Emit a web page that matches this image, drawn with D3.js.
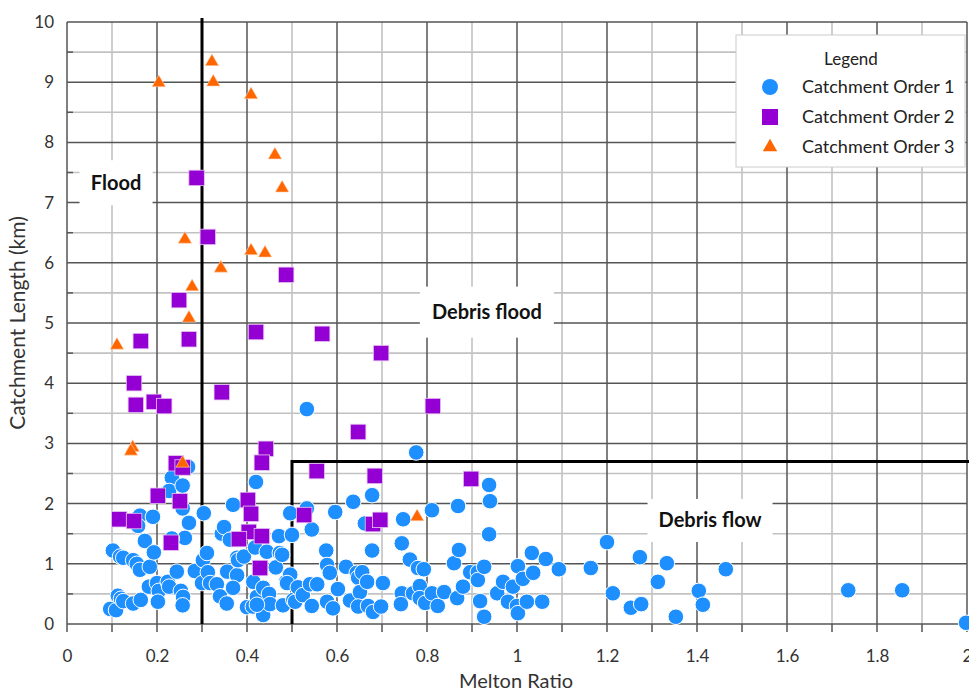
<!DOCTYPE html>
<html>
<head>
<meta charset="utf-8">
<script src="https://cdn.jsdelivr.net/npm/d3@7"></script>
<style>
  body { margin: 0; background: #fff; }
  svg { font-family: Lato, "Open Sans", sans-serif; }
</style>
</head>
<body>
<div id="chart"></div>
<script>
// Melton ratio vs catchment length, three catchment orders

const order1 = [
  [0.096, 0.25], [0.109, 0.23], [0.113, 0.47], [0.12, 0.42], [0.125, 0.38], [0.147, 0.34], [0.164, 0.40],
  [0.102, 1.22], [0.118, 1.12], [0.125, 1.10], [0.147, 1.06], [0.155, 1.00], [0.162, 0.90], [0.184, 0.95],
  [0.173, 1.38], [0.193, 1.19], [0.162, 1.80], [0.158, 1.63], [0.191, 1.78], [0.182, 0.62], [0.2, 0.68],
  [0.204, 0.55], [0.202, 0.37], [0.224, 0.70], [0.227, 0.62], [0.244, 0.87], [0.253, 0.55], [0.258, 0.45],
  [0.257, 0.31], [0.233, 2.43], [0.227, 2.21], [0.257, 2.30], [0.257, 1.92], [0.271, 1.68], [0.262, 1.43],
  [0.233, 1.42], [0.269, 2.61], [0.284, 0.88], [0.3, 0.68], [0.302, 1.06],
  [0.304, 1.84], [0.311, 1.18], [0.313, 0.86], [0.318, 0.68], [0.333, 0.66], [0.34, 0.46], [0.355, 0.34],
  [0.369, 1.98], [0.344, 1.50], [0.349, 1.61], [0.362, 1.40], [0.378, 1.10], [0.356, 0.87], [0.378, 0.81],
  [0.369, 0.60], [0.38, 1.06], [0.393, 1.12], [0.4, 0.28], [0.413, 0.29], [0.414, 0.70], [0.42, 2.36],
  [0.418, 1.27], [0.422, 0.45], [0.436, 0.60], [0.449, 0.50], [0.436, 0.15], [0.444, 1.20], [0.451, 0.33],
  [0.422, 0.32], [0.473, 1.18], [0.471, 1.46], [0.464, 0.94], [0.487, 0.70], [0.48, 0.31], [0.496, 1.84],
  [0.5, 1.48], [0.496, 0.82], [0.503, 0.40], [0.478, 1.15], [0.489, 0.68],
  [0.507, 0.37], [0.513, 0.61], [0.524, 0.48], [0.533, 1.92], [0.533, 3.57], [0.544, 1.57], [0.544, 0.30],
  [0.54, 0.66], [0.556, 0.66], [0.576, 1.22], [0.578, 0.98], [0.584, 0.85], [0.578, 0.37], [0.591, 0.26],
  [0.596, 1.86], [0.602, 0.58], [0.62, 0.95], [0.629, 0.39], [0.636, 2.03], [0.644, 0.85], [0.647, 0.77],
  [0.651, 0.53], [0.647, 0.29], [0.656, 0.86], [0.662, 1.67], [0.667, 0.70], [0.669, 0.30], [0.678, 2.14],
  [0.678, 1.22], [0.68, 0.2], [0.698, 0.29], [0.702, 0.68], [0.744, 1.34], [0.747, 1.74], [0.744, 0.51],
  [0.742, 0.33], [0.762, 1.07], [0.769, 0.51], [0.776, 2.85], [0.78, 0.93], [0.784, 0.63], [0.784, 0.43],
  [0.793, 0.91], [0.796, 0.35],
  [0.811, 1.89], [0.811, 0.51], [0.824, 0.30], [0.838, 0.53], [0.86, 1.01], [0.867, 0.43], [0.869, 1.96],
  [0.871, 1.23], [0.88, 0.62], [0.896, 0.86], [0.913, 0.86], [0.913, 0.73], [0.918, 0.38], [0.927, 0.95],
  [0.927, 0.12], [0.938, 2.31], [0.94, 2.04], [0.938, 1.49], [0.956, 0.51], [0.969, 0.70], [0.98, 0.37],
  [0.991, 0.62], [1.0, 0.30], [1.002, 0.18], [1.002, 0.96], [1.013, 0.75], [1.022, 0.37], [1.033, 1.18],
  [1.036, 0.85], [1.056, 0.37], [1.064, 1.08], [1.093, 0.91], [1.164, 0.93], [1.2, 1.36], [1.213, 0.51],
  [1.253, 0.27], [1.273, 1.11], [1.276, 0.33], [1.313, 0.70], [1.333, 1.01], [1.353, 0.12], [1.404, 0.55],
  [1.413, 0.32], [1.464, 0.91], [1.736, 0.56], [1.856, 0.56], [1.998, 0.02]
];

const order2 = [
  [0.288, 7.41], [0.313, 6.43], [0.487, 5.80], [0.249, 5.38], [0.271, 4.73], [0.164, 4.70], [0.42, 4.85],
  [0.567, 4.82], [0.698, 4.50], [0.149, 4.0], [0.153, 3.64], [0.193, 3.69], [0.216, 3.62], [0.344, 3.85],
  [0.647, 3.19], [0.813, 3.62], [0.442, 2.91], [0.433, 2.68], [0.242, 2.67], [0.257, 2.60], [0.202, 2.13],
  [0.251, 2.04], [0.116, 1.74], [0.149, 1.71], [0.231, 1.35], [0.402, 2.06], [0.409, 1.83], [0.404, 1.53],
  [0.382, 1.41], [0.433, 1.46], [0.429, 0.93], [0.527, 1.81], [0.555, 2.54], [0.684, 2.46], [0.898, 2.41],
  [0.68, 1.66], [0.696, 1.73]
];

const order3 = [
  [0.204, 8.99], [0.322, 9.34], [0.325, 9.0], [0.409, 8.79], [0.462, 7.79], [0.478, 7.24], [0.262, 6.39],
  [0.409, 6.2], [0.44, 6.16], [0.342, 5.91], [0.278, 5.6], [0.271, 5.08], [0.111, 4.63], [0.146, 2.93],
  [0.142, 2.87], [0.257, 2.67], [0.778, 1.78]
];

const xTicks = [0, 0.2, 0.4, 0.6, 0.8, 1, 1.2, 1.4, 1.6, 1.8, 2];
const yTicks = [0, 1, 2, 3, 4, 5, 6, 7, 8, 9, 10];
const zoneLabels = [
  { text: 'Flood', x: 0.109, y: 7.33, w: 73, h: 45 },
  { text: 'Debris flood', x: 0.933, y: 5.18, w: 134, h: 51 },
  { text: 'Debris flow', x: 1.429, y: 1.72, w: 125, h: 43 }
];
const legendItems = ['Catchment Order 1', 'Catchment Order 2', 'Catchment Order 3'];

const W = 969, H = 691;
const m = { top: 22, right: 2, bottom: 67, left: 67 };
const iw = W - m.left - m.right, ih = H - m.top - m.bottom;

const svg = d3.select('#chart').append('svg').attr('width', W).attr('height', H);
const g = svg.append('g').attr('transform', `translate(${m.left},${m.top})`);

const x = d3.scaleLinear().domain([0, 2]).range([0, iw]);
const y = d3.scaleLinear().domain([0, 10]).range([ih, 0]);

const colors = { c1: '#1e8fff', c2: '#9400d3', c3: '#ff6600' };

// grid: minor first, then major
const xMinor = d3.range(1, 20, 2).map(i => i / 10);
const yMinor = d3.range(1, 20, 2).map(i => i / 2);
g.selectAll('.vmin').data(xMinor).enter().append('line')
  .attr('x1', d => x(d)).attr('x2', d => x(d)).attr('y1', 0).attr('y2', ih)
  .attr('stroke', '#c2c2c2').attr('stroke-width', 1.6);
g.selectAll('.hmin').data(yMinor).enter().append('line')
  .attr('x1', 0).attr('x2', iw).attr('y1', d => y(d)).attr('y2', d => y(d))
  .attr('stroke', '#c2c2c2').attr('stroke-width', 1.6);
g.selectAll('.vmaj').data(xTicks).enter().append('line')
  .attr('x1', d => x(d)).attr('x2', d => x(d)).attr('y1', 0).attr('y2', ih)
  .attr('stroke', '#555').attr('stroke-width', 1.5);
g.selectAll('.hmaj').data(yTicks).enter().append('line')
  .attr('x1', 0).attr('x2', iw).attr('y1', d => y(d)).attr('y2', d => y(d))
  .attr('stroke', '#555').attr('stroke-width', 1.5);

// ticks: x outward all, y minor inward
g.selectAll('.xt').data(d3.range(0, 21).map(i => i / 10)).enter().append('line')
  .attr('x1', d => x(d)).attr('x2', d => x(d)).attr('y1', ih).attr('y2', ih + 8)
  .attr('stroke', '#555').attr('stroke-width', 1.5);
g.selectAll('.yt').data(yMinor).enter().append('line')
  .attr('x1', 0).attr('x2', 6).attr('y1', d => y(d)).attr('y2', d => y(d))
  .attr('stroke', '#555').attr('stroke-width', 1.5);

// axes labels
const xAxis = d3.axisBottom(x).tickValues(xTicks).tickFormat(d3.format('~g')).tickSize(0).tickPadding(26);
const xa = g.append('g').attr('transform', `translate(0,${ih})`).call(xAxis);
const yAxis = d3.axisLeft(y).tickValues(yTicks).tickFormat(d3.format('d')).tickSize(0).tickPadding(13);
const ya = g.append('g').call(yAxis);
[xa, ya].forEach(a => {
  a.select('.domain').remove();
  a.selectAll('text').attr('font-size', 17).attr('fill', '#333').style('font-family', 'Lato, sans-serif');
});

svg.append('text').attr('x', m.left + x(1) - 1).attr('y', 688)
  .attr('text-anchor', 'middle').attr('font-size', 20).attr('fill', '#333').text('Melton Ratio');
svg.append('text').attr('transform', `translate(25,${m.top + y(5)}) rotate(-90)`)
  .attr('text-anchor', 'middle').attr('font-size', 21).attr('fill', '#333').text('Catchment Length (km)');

// zone boundaries
g.append('line').attr('x1', x(0.3)).attr('x2', x(0.3)).attr('y1', -4).attr('y2', ih)
  .attr('stroke', '#000').attr('stroke-width', 3);
g.append('path')
  .attr('d', `M${x(0.5)},${ih}V${y(2.7)}H${iw + 2}`)
  .attr('fill', 'none').attr('stroke', '#000').attr('stroke-width', 3);

// zone labels with white boxes
const zl = g.selectAll('.zl').data(zoneLabels).enter().append('g')
  .attr('transform', d => `translate(${x(d.x)},${y(d.y)})`);
zl.append('rect').attr('x', d => -d.w / 2).attr('y', d => -d.h / 2)
  .attr('width', d => d.w).attr('height', d => d.h).attr('fill', '#fff');
zl.append('text').attr('text-anchor', 'middle').attr('dy', '0.35em')
  .attr('font-size', 20).attr('font-weight', 'bold').attr('fill', '#111').text(d => d.text);

// markers
g.selectAll('.c1').data(order1).enter().append('circle')
  .attr('cx', d => x(d[0])).attr('cy', d => y(d[1])).attr('r', 7.8)
  .attr('fill', colors.c1).attr('stroke', '#fff').attr('stroke-width', 1);
const sq = 15.5;
g.selectAll('.c2').data(order2).enter().append('rect')
  .attr('x', d => x(d[0]) - sq / 2).attr('y', d => y(d[1]) - sq / 2).attr('width', sq).attr('height', sq)
  .attr('fill', colors.c2).attr('stroke', '#e6c8f0').attr('stroke-width', 0.8);
const tri = d3.symbol().type(d3.symbolTriangle).size(80);
g.selectAll('.c3').data(order3).enter().append('path')
  .attr('d', tri).attr('transform', d => `translate(${x(d[0])},${y(d[1])})`)
  .attr('fill', colors.c3).attr('stroke', '#ffd7bf').attr('stroke-width', 0.6);

// legend
const lg = svg.append('g').attr('transform', 'translate(736,35)');
lg.append('rect').attr('width', 229).attr('height', 132).attr('fill', '#fff').attr('stroke', '#ccc').attr('stroke-width', 1);
lg.append('text').attr('x', 115).attr('y', 30).attr('text-anchor', 'middle')
  .attr('font-size', 17).attr('fill', '#222').text('Legend');
const li = lg.selectAll('.li').data(legendItems).enter().append('g')
  .attr('transform', (d, i) => `translate(34,${52 + i * 30})`);
li.append('text').attr('x', 32).attr('dy', '0.35em').attr('font-size', 18).attr('fill', '#222').text(d => d);
li.filter((d, i) => i === 0).append('circle').attr('r', 8).attr('fill', colors.c1);
li.filter((d, i) => i === 1).append('rect').attr('x', -8).attr('y', -8).attr('width', 16).attr('height', 16).attr('fill', colors.c2);
li.filter((d, i) => i === 2).append('path').attr('d', d3.symbol().type(d3.symbolTriangle).size(90)).attr('fill', colors.c3);
</script>
</body>
</html>
